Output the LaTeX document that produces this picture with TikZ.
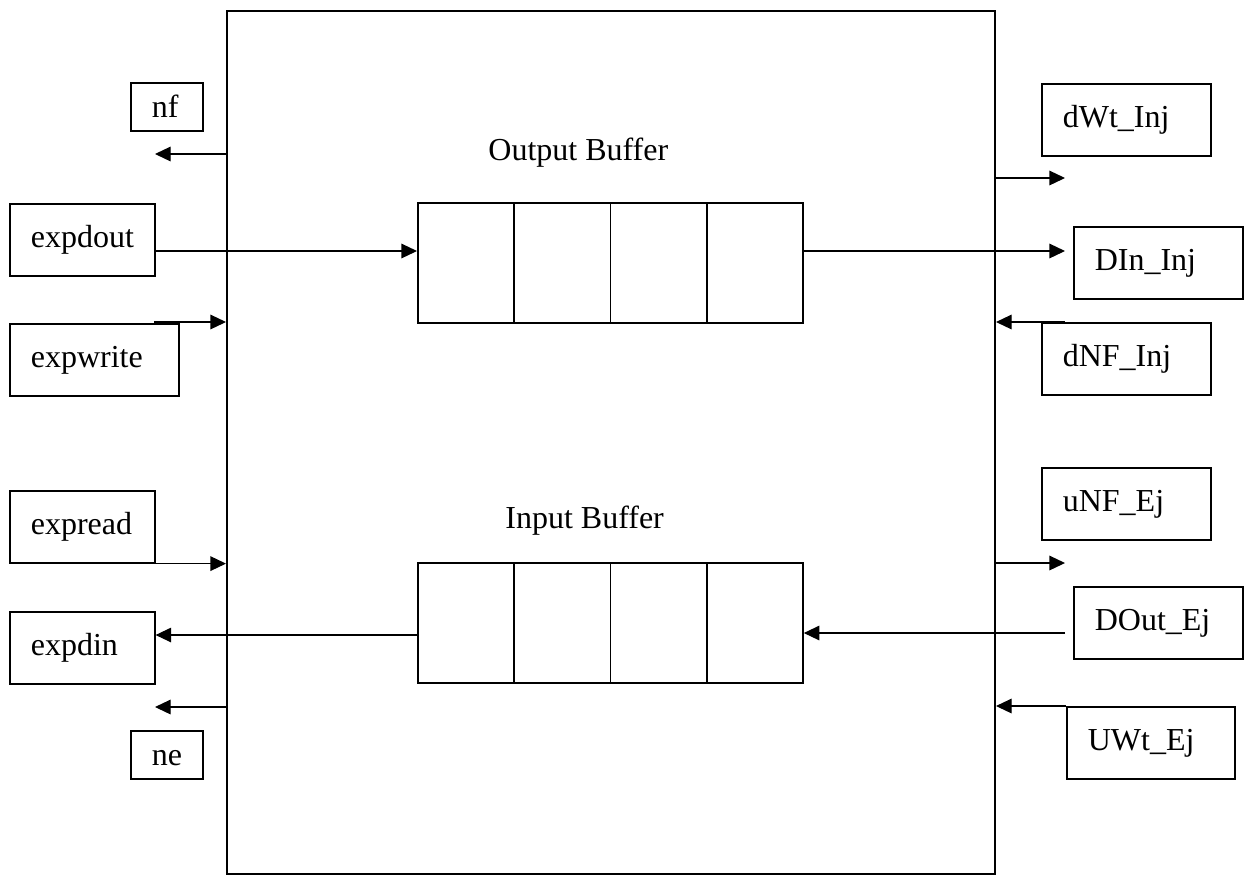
\documentclass[tikz,border=0pt]{standalone}
\usepackage{fontspec}
\setmainfont{Liberation Serif}
\usepackage{tikz}
\usetikzlibrary{positioning, arrows.meta, calc}

\begin{document}
\begin{tikzpicture}[
  x=0.5pt, y=-0.5pt,
  font=\fontsize{16}{19}\selectfont,
  frame/.style={
    draw, line width=1pt, anchor=north west, inner sep=0pt
  },
  buffer/.style={
    draw, line width=0.9pt, anchor=north west, inner sep=0pt,
    minimum width=192.5pt, minimum height=60pt
  },
  sig/.style={
    draw, line width=0.8pt, anchor=north west, align=left,
    inner xsep=10.5pt, inner ysep=0pt, minimum height=36pt,
    text height=11pt, text depth=3.5pt, text width=#1
  },
  flag/.style={
    sig=#1, minimum height=24pt, text depth=0pt
  },
  arrow/.style={
    -{Triangle[length=7.8pt,width=7.3pt]}, line width=0.6pt
  }
]
\useasboundingbox (0,0) rectangle (1251,874);

% Interface unit
\node[frame, minimum width=384pt, minimum height=431.5pt] (unit) at (226,10) {};

% Buffers
\node[buffer] (outbuf) at (417,202) {};
\node[buffer] (inbuf) at (417,562) {};
\foreach \b in {outbuf, inbuf}
  \foreach \i in {1,2,3}
    \draw[line width=0.9pt] ($(\b.north west)!\i/4!(\b.north east)$) -- ($(\b.south west)!\i/4!(\b.south east)$);

\node[anchor=base west, inner sep=0pt] (outlabel) at (488,160) {Output Buffer};
\node[anchor=base west, inner sep=0pt] (inlabel) at (505,528) {Input Buffer};

% Left side signals
\node[flag=15pt] (nf) at (130,82) {nf};
\node[sig=51.5pt] (expdout) at (9,203) {expdout};
\node[sig=63.5pt] (expwrite) at (9,323) {expwrite};
\node[sig=51.5pt] (expread) at (9,490) {expread};
\node[sig=51.5pt] (expdin) at (9,611) {expdin};
\node[flag=15pt] (ne) at (130,730) {ne};

% Right side signals
\node[sig=63.5pt] (dWt) at (1041,83) {dWt\_Inj};
\node[sig=63.5pt] (DIn) at (1073,226) {DIn\_Inj};
\node[sig=63.5pt] (dNF) at (1041,322) {dNF\_Inj};
\node[sig=63.5pt] (uNF) at (1041,467) {uNF\_Ej};
\node[sig=63.5pt] (DOut) at (1073,586) {DOut\_Ej};
\node[sig=63pt] (UWt) at (1066,706) {UWt\_Ej};

% Free arrow ends
\coordinate (nfend) at (155,154);
\coordinate (wrstart) at (154,322);
\coordinate (dinlvl) at (300,635);
\coordinate (neend) at (155,707);
\coordinate (dWtend) at (1065,178);
\coordinate (DInend) at (1065,251);
\coordinate (dNFstart) at (1065,322);
\coordinate (uNFend) at (1065,563);
\coordinate (DOutstart) at (1065,633);

% Left connections
\draw[arrow] (unit.west |- nfend) -- (nfend);
\draw[arrow] (expdout.east |- DInend) -- (outbuf.west |- DInend);
\draw[arrow] (wrstart) -- (unit.west |- wrstart);
\draw[arrow] (expread.south east) -- (unit.west |- expread.south east);
\draw[arrow] (inbuf.west |- dinlvl) -- (expdin.east |- dinlvl);
\draw[arrow] (unit.west |- neend) -- (neend);

% Right connections
\draw[arrow] (unit.east |- dWtend) -- (dWtend);
\draw[arrow] (outbuf.east |- DInend) -- (DInend);
\draw[arrow] (dNFstart) -- (unit.east |- dNFstart);
\draw[arrow] (unit.east |- uNFend) -- (uNFend);
\draw[arrow] (DOutstart) -- (inbuf.east |- DOutstart);
\draw[arrow] (UWt.north west) -- (unit.east |- UWt.north west);

\end{tikzpicture}
\end{document}
